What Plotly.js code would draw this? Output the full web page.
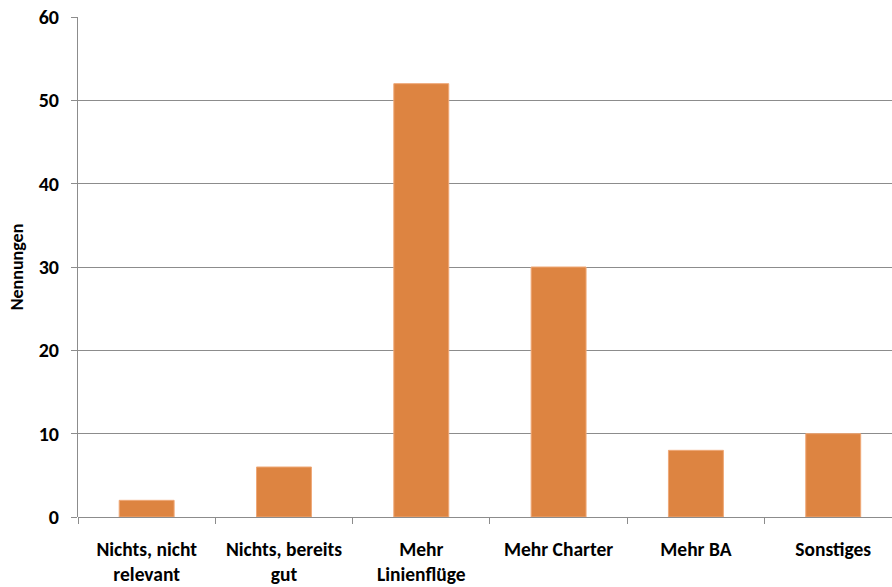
<!DOCTYPE html>
<html>
<head>
<meta charset="utf-8">
<script src="https://cdn.plot.ly/plotly-3.0.1.min.js"></script>
<style>html,body{margin:0;padding:0;background:#fff}#chart{width:892px;height:587px}</style>
</head>
<body>
<div id="chart"></div>
<script>
const categories = ["Nichts, nicht<br>relevant", "Nichts, bereits<br>gut", "Mehr<br>Linienflüge", "Mehr Charter", "Mehr BA", "Sonstiges"];
const values = [2, 6, 52, 30, 8, 10];
const yTicks = [0, 10, 20, 30, 40, 50, 60];

const FONT = "Carlito, Lato, 'Open Sans', sans-serif";

const trace = {
  type: "bar",
  x: categories,
  y: values,
  width: 0.4,
  marker: { color: "#DD8441", line: { color: "#EFA877", width: 1 } },
  hoverinfo: "x+y"
};

const layout = {
  width: 892,
  height: 587,
  margin: { l: 78, r: 0, t: 17, b: 70 },
  paper_bgcolor: "#ffffff",
  plot_bgcolor: "#ffffff",
  showlegend: false,
  font: { family: FONT, color: "#000000" },
  xaxis: {
    type: "category",
    range: [-0.5, 5.428],
    tickson: "boundaries",
    ticks: "outside",
    ticklen: 6,
    tickcolor: "#8c8c8c",
    showgrid: false,
    showline: false,
    zeroline: false,
    tickfont: { family: FONT, size: 19.5, color: "#000000", weight: "bold" },
    ticklabelstandoff: 18,
    fixedrange: true
  },
  yaxis: {
    range: [0, 60],
    tickvals: yTicks,
    ticktext: yTicks.map(String),
    ticks: "outside",
    ticklen: 6,
    tickcolor: "#8c8c8c",
    showgrid: true,
    gridcolor: "#8c8c8c",
    gridwidth: 1,
    showline: true,
    linecolor: "#8c8c8c",
    linewidth: 1,
    zeroline: true,
    zerolinecolor: "#8c8c8c",
    zerolinewidth: 1,
    tickfont: { family: FONT, size: 20, color: "#000000", weight: "bold" },
    ticklabelstandoff: 8,
    title: { text: "Nennungen", font: { family: FONT, size: 18, color: "#000000", weight: "bold" }, standoff: 10 },
    fixedrange: true
  }
};

Plotly.newPlot("chart", [trace], layout, { displayModeBar: false, staticPlot: true });
</script>
</body>
</html>
